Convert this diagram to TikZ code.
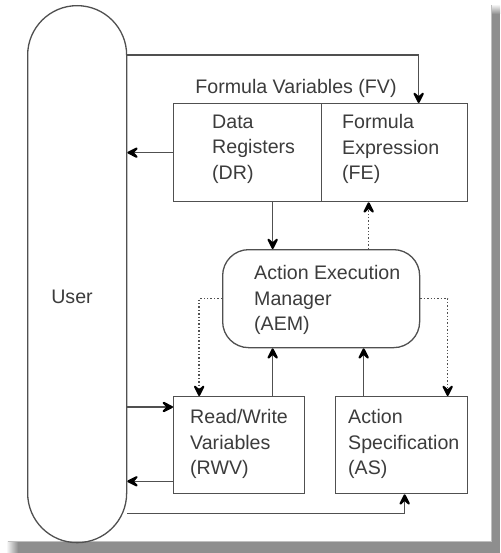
\documentclass[tikz,border=0pt]{standalone}
\usepackage{fontspec}
\setmainfont{Liberation Sans}
\usetikzlibrary{arrows.meta,calc}

\definecolor{ink}{HTML}{505050}
\definecolor{txt}{HTML}{3C3C3C}
\definecolor{shadow}{HTML}{8E8E8E}

\tikzset{
  box/.style={draw=ink, line width=1.3pt, inner sep=0pt, anchor=north west},
  lbl/.style={text=txt, inner sep=0pt, anchor=west, align=left,
              font=\fontsize{19.6}{25.5}\selectfont},
  arr/.style={draw=ink, line width=1.3pt,
    -{Stealth[length=15pt,width=15pt,inset=7pt,black,line width=2pt,round]}},
  dotarr/.style={arr, line width=1.4pt, dotted},
}

\begin{document}
\begin{tikzpicture}[x=1pt,y=-1pt]
  \useasboundingbox (0,0) rectangle (500,553);

  % drop shadow of the page
  \fill[shadow] (491,14) rectangle (500,553);
  \fill[shadow] (18,541) rectangle (500,553);
  \shade[top color=white, bottom color=shadow] (491,4) rectangle (500,14);
  \shade[left color=white, right color=shadow] (6,541) rectangle (18,553);
  \fill[white] (0,0) rectangle (491,541);
  \draw[black!25, line width=0.8pt] (491,5) -- (491,541) -- (8,541);

  % user column
  \node[box, rounded corners=49.5pt, minimum width=99pt, minimum height=537pt] (user) at (27,5) {};
  \node[lbl, anchor=center] (usertxt) at (72,297) {User};

  % formula variables: data registers and formula expression
  \node[lbl, anchor=center] (fvtxt) at (296,88) {Formula Variables (FV)};
  \node[box, minimum width=148pt, minimum height=98pt] (dr) at (173,103) {};
  \node[box, minimum width=146pt, minimum height=98pt] (fe) at (321,103) {};
  \node[lbl] (drtxt) at (212,149) {Data\\Registers\\(DR)};
  \node[lbl] (fetxt) at (342,149) {Formula\\Expression\\(FE)};

  % action execution manager
  \node[box, rounded corners=26pt, minimum width=197pt, minimum height=98pt] (aem) at (222,249) {};
  \node[lbl] (aemtxt) at (254,300) {Action Execution\\Manager\\(AEM)};

  % read/write variables and action specification
  \node[box, minimum width=131pt, minimum height=97pt] (rwv) at (173,396) {};
  \node[box, minimum width=132pt, minimum height=97pt] (as) at (335,396) {};
  \node[lbl] (rwvtxt) at (190,444) {Read/Write\\Variables\\(RWV)};
  \node[lbl] (astxt) at (348,444) {Action\\Specification\\(AS)};

  % connection points
  \coordinate (utop) at ([yshift=-50pt]user.north east);
  \coordinate (ubot) at ([yshift=30pt]user.south east);
  \coordinate (fein) at ([xshift=24pt]fe.north);
  \coordinate (feup) at ([xshift=-26pt]fe.south);
  \coordinate (drdown) at ([xshift=25pt]dr.south);
  \coordinate (rwvup) at ([xshift=33.5pt]rwv.north);
  \coordinate (rwvdot) at ([xshift=-40pt]rwv.north);
  \coordinate (asup) at ([xshift=-38pt]as.north);
  \coordinate (asdot) at ([xshift=46pt]as.north);
  \coordinate (asin) at ([xshift=3pt]as.south);
  \coordinate (rwvin) at ([yshift=-11pt]rwv.north west);
  \coordinate (rwvout) at ([yshift=13pt]rwv.south west);

  % solid connectors
  \draw[arr] (utop) -| (fein);
  \draw[arr] (dr.west) -- (dr.west -| user.east);
  \draw[arr] (drdown) -- (drdown |- aem.north);
  \draw[arr] (rwvup) -- (rwvup |- aem.south);
  \draw[arr] (asup) -- (asup |- aem.south);
  \draw[arr] (rwvin -| user.east) -- (rwvin);
  \draw[arr] (rwvout) -- (rwvout -| user.east);
  \draw[arr] (ubot) -| (asin);

  % dotted connectors
  \draw[dotarr] (feup |- aem.north) -- (feup);
  \draw[dotarr] (aem.west) -| (rwvdot);
  \draw[dotarr] (aem.east) -| (asdot);
\end{tikzpicture}
\end{document}
